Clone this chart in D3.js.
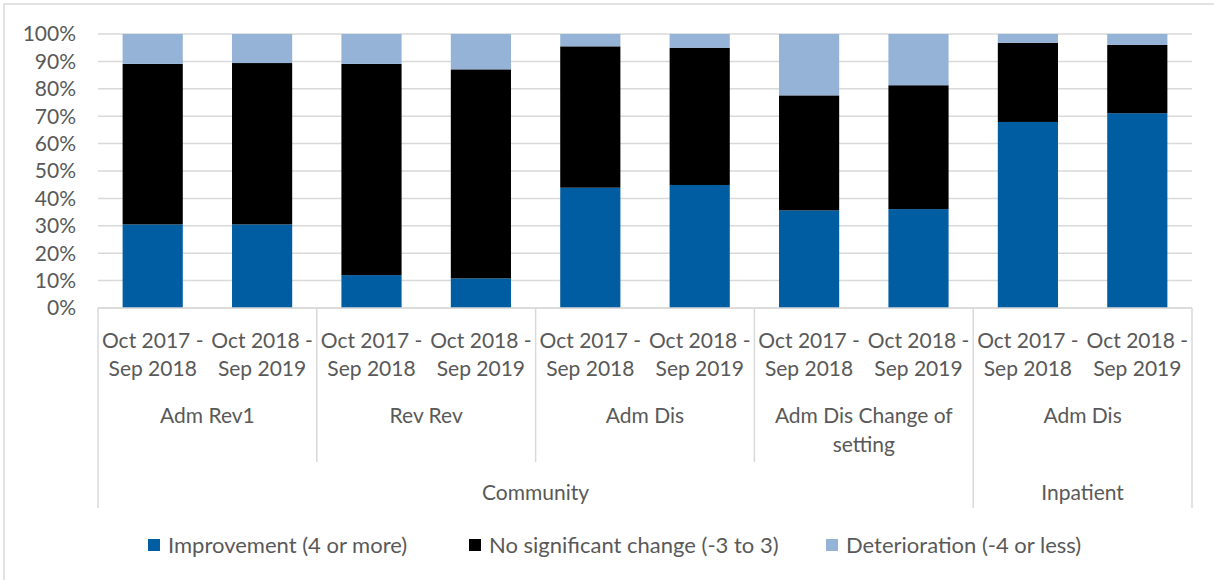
<!DOCTYPE html>
<html><head><meta charset="utf-8">
<script src="https://cdn.jsdelivr.net/npm/d3@7"></script>
<style>body{margin:0;background:#fff}svg{display:block}text{font-family:Lato,"Open Sans",sans-serif;fill:#595959}</style>
</head><body><svg id="c" width="1214" height="580"></svg>
<script>
const periods = ["Oct 2017 -|Sep 2018","Oct 2018 -|Sep 2019","Oct 2017 -|Sep 2018","Oct 2018 -|Sep 2019","Oct 2017 -|Sep 2018","Oct 2018 -|Sep 2019","Oct 2017 -|Sep 2018","Oct 2018 -|Sep 2019","Oct 2017 -|Sep 2018","Oct 2018 -|Sep 2019"];
const measures = ["Adm Rev1","Adm Rev1","Rev Rev","Rev Rev","Adm Dis","Adm Dis","Adm Dis Change of|setting","Adm Dis Change of|setting","Adm Dis","Adm Dis"];
const settings = ["Community","Community","Community","Community","Community","Community","Community","Community","Inpatient","Inpatient"];
const improvement = [30.5, 30.5, 12.0, 10.8, 43.9, 44.9, 35.6, 36.1, 67.9, 71.1];
const noChange    = [58.6, 58.9, 77.1, 76.3, 51.6, 50.1, 42.0, 45.2, 28.9, 24.9];
const deterioration=[10.9, 10.6, 10.9, 12.9, 4.5, 5.0, 22.4, 18.7, 3.2, 4.0];
const seriesNames = ["Improvement (4 or more)","No significant change (-3 to 3)","Deterioration (-4 or less)"];
const colors = ["#005DA2","#000000","#95B3D7"];
const yTicks = [0,10,20,30,40,50,60,70,80,90,100];

const svg = d3.select("#c");
const L = 98, R = 1192, T = 34, B = 308;
const FS = "21px";
const idx = d3.range(periods.length);
const x = d3.scaleBand().domain(idx).range([L,R]).paddingInner(0.45).paddingOuter(0.225);
const y = d3.scaleLinear().domain([0,100]).range([B,T]);

svg.append("rect").attr("x",4).attr("y",4).attr("width",1230).attr("height",600)
  .attr("fill","none").attr("stroke","#d9d9d9").attr("stroke-width",1.5);

svg.append("g").selectAll("line").data(yTicks).join("line")
  .attr("x1",L).attr("x2",R).attr("y1",d=>y(d)).attr("y2",d=>y(d))
  .attr("stroke","#d9d9d9").attr("stroke-width",1.5);
svg.append("g").selectAll("text").data(yTicks).join("text")
  .attr("x",76).attr("y",d=>y(d)).attr("dy","0.35em").attr("text-anchor","end")
  .style("font-size",FS).text(d=>d+"%");

const rows = idx.map(i=>({i, a:improvement[i], b:noChange[i], c:deterioration[i]}));
const stack = d3.stack().keys(["a","b","c"]).offset(d3.stackOffsetExpand)(rows);
svg.append("g").selectAll("g").data(stack).join("g").attr("fill",(d,k)=>colors[k])
  .selectAll("rect").data(d=>d).join("rect")
  .attr("x",d=>x(d.data.i)).attr("width",x.bandwidth())
  .attr("y",d=>y(d[1]*100)).attr("height",d=>y(d[0]*100)-y(d[1]*100));

const ax = svg.append("g");
const step = x.step();
const left = i => L + i*step;
ax.append("line").attr("x1",L).attr("x2",R).attr("y1",B).attr("y2",B).attr("stroke","#d9d9d9").attr("stroke-width",1.5);
const mSpans=[];measures.forEach((v,i)=>{const last=mSpans[mSpans.length-1];if(last&&last.v===v&&settings[last.start]===settings[i])last.end=i;else mSpans.push({v,start:i,end:i});});
const sSpans=[];settings.forEach((v,i)=>{const last=sSpans[sSpans.length-1];if(last&&last.v===v)last.end=i;else sSpans.push({v,start:i,end:i});});
mSpans.slice(1).forEach(s=>{
  const isOuter = sSpans.some(ss=>ss.start===s.start);
  ax.append("line").attr("x1",left(s.start)).attr("x2",left(s.start)).attr("y1",B).attr("y2",isOuter?508:462)
    .attr("stroke","#d9d9d9").attr("stroke-width",1.5);
});
[L,R].forEach(xx=>ax.append("line").attr("x1",xx).attr("x2",xx).attr("y1",B).attr("y2",508).attr("stroke","#d9d9d9").attr("stroke-width",1.5));
idx.forEach(i=>{
  const t = ax.append("text").attr("text-anchor","middle").style("font-size",FS);
  periods[i].split("|").forEach((ln,k)=>t.append("tspan").attr("x",x(i)+x.bandwidth()/2).attr("y",341+k*28).attr("dy","0.35em").text(ln));
});
mSpans.forEach(s=>{
  const cx=(left(s.start)+left(s.end+1))/2;
  const t = ax.append("text").attr("text-anchor","middle").style("font-size",FS);
  s.v.split("|").forEach((ln,k)=>t.append("tspan").attr("x",cx).attr("y",416+k*29).attr("dy","0.35em").text(ln));
});
sSpans.forEach(s=>{
  const cx=(left(s.start)+left(s.end+1))/2;
  ax.append("text").attr("x",cx).attr("y",493).attr("dy","0.35em").attr("text-anchor","middle").style("font-size",FS).text(s.v);
});

const legX = [148, 469, 826];
const lg = svg.append("g");
seriesNames.forEach((n,k)=>{
  lg.append("rect").attr("x",legX[k]).attr("y",539).attr("width",12).attr("height",12).attr("fill",colors[k]);
  lg.append("text").attr("x",legX[k]+20).attr("y",545).attr("dy","0.35em").style("font-size","22px").text(n);
});
</script></body></html>
